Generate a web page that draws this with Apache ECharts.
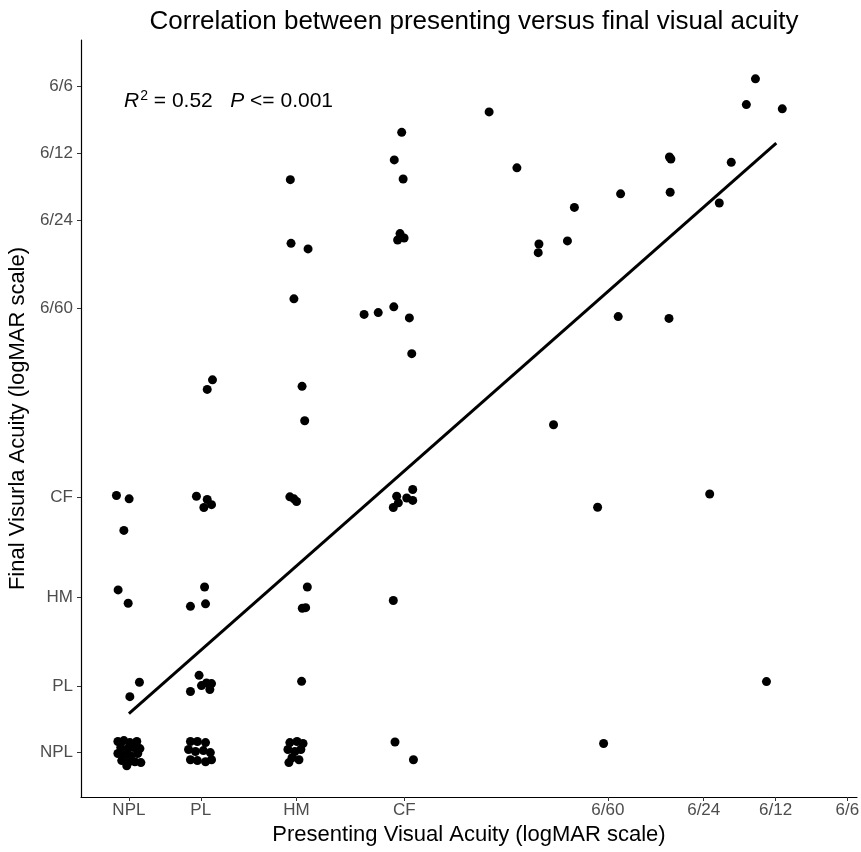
<!DOCTYPE html>
<html>
<head>
<meta charset="utf-8">
<script src="https://cdn.jsdelivr.net/npm/echarts@6/dist/echarts.min.js"></script>
<style>
  html, body { margin: 0; padding: 0; background: #fff; }
  #chart { width: 861px; height: 852px; }
</style>
</head>
<body>
<div id="chart"></div>
<script>
// logMAR tick positions and labels (same scale on both axes)
const tickValues = [3.0, 2.7, 2.3, 1.85, 1.0, 0.6, 0.3, 0];
const tickLabels = ['NPL', 'PL', 'HM', 'CF', '6/60', '6/24', '6/12', '6/6'];

// jittered observations, logMAR
const presentingVA = [
  1.496, 0.384, 0.422, 0.272, 1.380, 0.743, 0.737, 0.485, 0.947, 0.740,
  1.140, 0.535, 1.288, 1.291, 1.169, 0.957, 0.745,
  1.227, 0.575, 1.043, 0.338, 1.018,
  1.861, 1.892, 1.855, 1.868, 1.878, 1.851, 2.018, 1.959, 1.894, 1.829, 1.819,
  2.326, 2.323, 2.252, 2.311, 2.277, 2.266,
  2.328, 2.311, 2.300, 1.882, 1.815, 1.840, 1.815, 1.896, 1.875,
  2.255, 2.276, 2.262, 1.896,
  2.651, 2.673, 3.052, 2.999, 3.021, 2.718, 2.673, 2.655, 2.687,
  3.045, 3.003, 2.684, 2.743, 2.680,
  2.956, 2.996, 2.707, 2.743, 2.697, 2.676, 2.662, 2.655, 2.279, 1.889, 1.812,
  3.046, 3.021, 2.996, 2.967, 3.034, 3.004, 2.979, 2.954, 3.046, 3.017,
  2.992, 2.963, 3.030, 3.000, 2.975, 2.950, 3.009,
  2.743, 2.714, 2.680, 2.751, 2.722, 2.689, 2.660, 2.743, 2.714, 2.680, 2.655,
  2.328, 2.298, 2.273, 2.336, 2.307, 2.282, 2.319, 2.290, 2.332
];
const finalVA = [
  0.114, -0.035, 0.081, 0.100, 0.366, 0.317, 0.326, 0.341, 0.483, 0.476,
  0.544, 0.524, 0.709, 0.748, 0.695, 1.036, 1.044,
  1.523, 1.835, 1.895, 2.680, 2.959,
  0.206, 0.330, 0.416, 0.662, 0.691, 0.682, 1.026, 1.018, 0.992, 1.042, 1.203,
  0.419, 0.706, 0.731, 0.956, 1.350, 1.505,
  1.848, 1.857, 1.869, 1.845, 1.815, 1.853, 1.864, 1.896, 1.875,
  2.254, 2.350, 2.347, 2.315,
  1.321, 1.364, 1.842, 1.857, 1.999, 1.845, 1.860, 1.883, 1.896,
  2.267, 2.327, 2.254, 2.341, 2.330,
  2.683, 2.748, 2.652, 2.725, 2.698, 2.686, 2.716, 2.689, 2.679, 2.952, 3.032,
  2.950, 2.946, 2.955, 2.950, 2.977, 2.982, 2.977, 2.982, 3.004, 3.009,
  3.014, 3.004, 3.036, 3.041, 3.041, 3.045, 3.059,
  2.950, 2.950, 2.955, 2.986, 2.995, 2.991, 3.000, 3.032, 3.036, 3.041, 3.032,
  2.955, 2.950, 2.959, 2.986, 2.995, 2.986, 3.023, 3.032, 3.045
];

// linear fit end points
const fitX = [3.0, 0.297];
const fitY = [2.824, 0.254];

const points = presentingVA.map((x, i) => [x, finalVA[i]]);
const fitLine = fitX.map((x, i) => [x, fitY[i]]);

const labelFor = v => {
  const i = tickValues.findIndex(t => Math.abs(t - v) < 1e-6);
  return i >= 0 ? tickLabels[i] : '';
};

const FONT = 'Liberation Sans, Arial, sans-serif';

const axisCommon = {
  type: 'value',
  inverse: true,
  axisLine: { show: true, onZero: false, lineStyle: { color: '#000', width: 1.2 } },
  axisTick: { show: true, length: 4, customValues: tickValues, lineStyle: { color: '#333' } },
  axisLabel: {
    customValues: tickValues,
    formatter: labelFor,
    color: '#4d4d4d',
    fontSize: 17,
    fontFamily: FONT
  },
  splitLine: { show: false },
  nameLocation: 'middle',
  nameTextStyle: { color: '#000', fontSize: 22, fontFamily: FONT }
};

const chart = echarts.init(document.getElementById('chart'));

chart.setOption({
  backgroundColor: '#fff',
  animation: false,
  title: [
    {
      text: 'Correlation between presenting versus final visual acuity',
      left: 469,
      textAlign: 'center',
      top: 4,
      textStyle: { color: '#000', fontSize: 26, fontWeight: 'normal', fontFamily: FONT }
    },
    {
      text: '{it|R}{sup|2}{n| = 0.52   }{it|P}{n| <= 0.001}',
      left: 119,
      top: 84,
      textStyle: {
        fontWeight: 'normal',
        rich: {
          it: { fontStyle: 'italic', fontWeight: 'normal', fontSize: 21, color: '#000', fontFamily: FONT },
          sup: { fontSize: 14, fontWeight: 'normal', color: '#000', padding: [0, 0, 11, 1], fontFamily: FONT },
          n: { fontSize: 21, fontWeight: 'normal', color: '#000', fontFamily: FONT }
        }
      }
    }
  ],
  grid: { left: 81, right: 4, top: 40, bottom: 55, containLabel: false, outerBoundsMode: 'none' },
  xAxis: Object.assign({}, axisCommon, {
    position: 'bottom',
    min: -0.04,
    max: 3.2,
    name: 'Presenting Visual Acuity (logMAR scale)',
    nameGap: 26,
    axisLabel: Object.assign({}, axisCommon.axisLabel, { margin: 5 })
  }),
  yAxis: Object.assign({}, axisCommon, {
    position: 'left',
    min: -0.21,
    max: 3.2,
    name: 'Final Visurla Acuity (logMAR scale)',
    nameGap: 48,
    axisLabel: Object.assign({}, axisCommon.axisLabel, { margin: 8 })
  }),
  series: [
    {
      type: 'scatter',
      data: points,
      symbolSize: 9,
      itemStyle: { color: '#000', opacity: 1 }
    },
    {
      type: 'line',
      data: fitLine,
      symbol: 'none',
      lineStyle: { color: '#000', width: 3 }
    }
  ]
});
</script>
</body>
</html>
